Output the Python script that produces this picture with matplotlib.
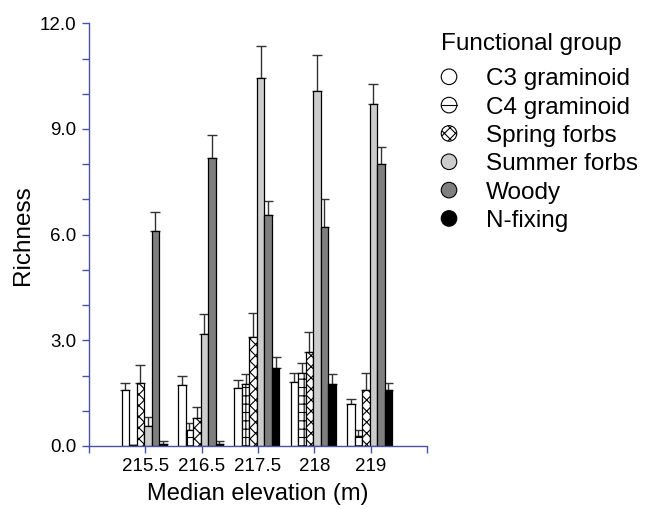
import numpy as np
import matplotlib
matplotlib.use('Agg')
import matplotlib.pyplot as plt
from matplotlib.patches import Circle, Patch
from matplotlib.lines import Line2D

plt.rcParams.update({
    'font.family': ['Liberation Sans', 'DejaVu Sans'],
    'hatch.linewidth': 0.8,
})

elevations = ['215.5', '216.5', '217.5', '218', '219']
groups = ['C3 graminoid', 'C4 graminoid', 'Spring forbs',
          'Summer forbs', 'Woody', 'N-fixing']

# mean richness per group at each elevation
c3 = [1.60, 1.72, 1.65, 1.83, 1.18]
c4 = [0.02, 0.44, 1.77, 2.06, 0.27]
spring = [1.78, 0.80, 3.10, 2.68, 1.58]
summer = [0.58, 3.17, 10.44, 10.09, 9.70]
woody = [6.09, 8.17, 6.56, 6.22, 8.00]
nfix = [0.05, 0.05, 2.21, 1.76, 1.58]

# upper standard errors
c3_se = [0.20, 0.27, 0.23, 0.25, 0.14]
c4_se = [0.00, 0.20, 0.28, 0.31, 0.17]
spring_se = [0.52, 0.32, 0.68, 0.56, 0.48]
summer_se = [0.25, 0.57, 0.92, 1.02, 0.58]
woody_se = [0.54, 0.67, 0.40, 0.79, 0.50]
nfix_se = [0.08, 0.08, 0.32, 0.29, 0.22]

means = [c3, c4, spring, summer, woody, nfix]
errs = [c3_se, c4_se, spring_se, summer_se, woody_se, nfix_se]

faces = ['white', 'white', 'white', '#cccccc', '#7f7f7f', 'black']
hatches = [None, '++', 'xxx', None, None, None]
AXC = '#4a52a8'

fig = plt.figure(figsize=(6.46, 5.09), dpi=100)
ax = fig.add_axes([0.1378, 0.1238, 0.661 - 0.1378, 0.9542 - 0.1238])

x = np.arange(1, len(elevations) + 1)
w = 0.133
for i in range(len(groups)):
    pos = x - 0.02 + (i - 2.5) * w
    ax.bar(pos, means[i], width=w, color=faces[i], edgecolor='black',
           linewidth=0.9, hatch=hatches[i], label=groups[i], zorder=2)
    ax.errorbar(pos, means[i], yerr=[np.zeros(len(x)), errs[i]], fmt='none',
                ecolor='#333333', elinewidth=1.0, capsize=3.5, capthick=1.0,
                zorder=1)

ax.set_xlim(0, 6)
ax.set_ylim(0, 12)
ax.set_xticks(range(0, 7))
ax.set_xticklabels([''] + elevations + [''])
ax.set_yticks([0, 3, 6, 9, 12])
ax.set_yticklabels(['0.0', '3.0', '6.0', '9.0', '12.0'])
ax.set_yticks(range(13), minor=True)
for s in ['top', 'right']:
    ax.spines[s].set_visible(False)
for s in ['left', 'bottom']:
    ax.spines[s].set_color(AXC)
    ax.spines[s].set_linewidth(1.0)
ax.tick_params(which='both', colors=AXC, labelcolor='black', length=5,
               width=1.0, labelsize=13.5)
ax.tick_params(axis='y', which='major', pad=4)
ax.set_xlabel('Median elevation (m)', fontsize=17, labelpad=6)
ax.set_ylabel('Richness', fontsize=17.5, labelpad=4)


class CircleHandler:
    def legend_artist(self, legend, orig_handle, fontsize, handlebox):
        x0, y0 = handlebox.xdescent, handlebox.ydescent
        hw, hh = handlebox.width, handlebox.height
        r = 5.6
        cx, cy = hw / 2 - x0, hh / 2 - y0
        c = Circle((cx, cy), r, facecolor=orig_handle.get_facecolor(),
                   edgecolor='black', hatch=orig_handle.get_hatch(), lw=0.8,
                   transform=handlebox.get_transform())
        handlebox.add_artist(c)
        if orig_handle.get_label() == 'C4 graminoid':
            ln = Line2D([cx - r, cx + r], [cy, cy], color='black', lw=0.8,
                        transform=handlebox.get_transform())
            handlebox.add_artist(ln)
        return c


handles = [Patch(facecolor=faces[i], hatch='xxx' if i == 2 else None,
                 label=groups[i]) for i in range(len(groups))]
leg = fig.legend(handles=handles, loc='upper left',
                 bbox_to_anchor=(441 / 646, 1 - 33 / 509),
                 title='Functional group', fontsize=17.5, title_fontsize=17.5,
                 frameon=False, alignment='left', borderpad=0, borderaxespad=0,
                 handlelength=0.66, handletextpad=1.2, labelspacing=0.26,
                 handler_map={Patch: CircleHandler()})
# a little more room between the title and the first entry
leg._legend_box.sep = 0.26 * 17.5 + 5

fig.savefig('out.png', dpi=100)
